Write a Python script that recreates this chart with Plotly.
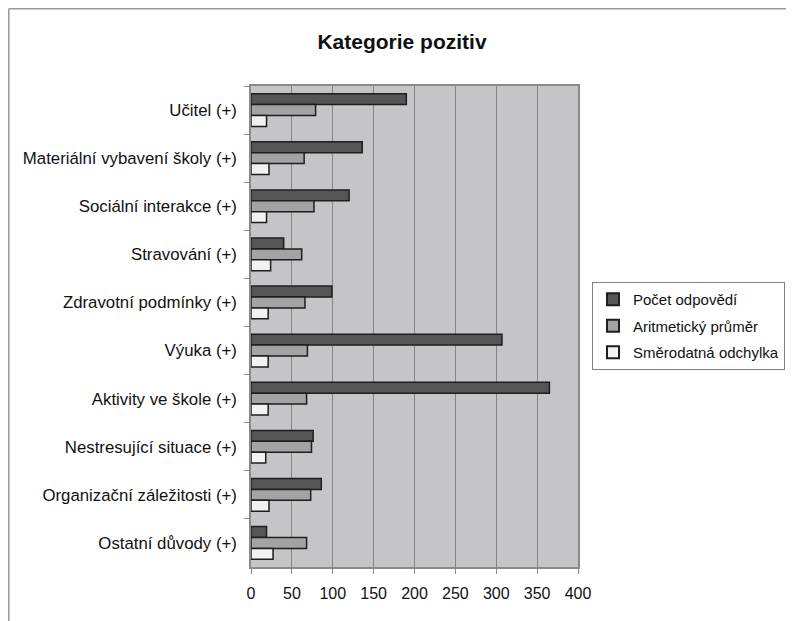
import plotly.graph_objects as go

categories = [
    "Učitel (+)",
    "Materiální vybavení školy (+)",
    "Sociální interakce (+)",
    "Stravování (+)",
    "Zdravotní podmínky (+)",
    "Výuka (+)",
    "Aktivity ve škole (+)",
    "Nestresující situace (+)",
    "Organizační záležitosti (+)",
    "Ostatní důvody (+)",
]
pocet = [190, 136, 120, 40, 99, 307, 365, 76, 86, 19]
prumer = [79, 65, 77, 62, 66, 69, 68, 74, 73, 68]
odchylka = [19, 22, 19, 24, 21, 21, 21, 18, 22, 27]
series_names = ["Počet odpovědí", "Aritmetický průměr", "Směrodatná odchylka"]
x_ticks = [0, 50, 100, 150, 200, 250, 300, 350, 400]

FONT = "Liberation Sans, Arial, sans-serif"
fills = ["#555555", "#a3a3a3", "#f2f2f2"]

fig = go.Figure()
for name, vals, col in zip(series_names, [pocet, prumer, odchylka], fills):
    fig.add_trace(go.Bar(
        y=categories, x=vals, orientation="h", name=name,
        marker=dict(color=col, line=dict(color="#1e1e1e", width=1.5)),
        legendgroup=name,
    ))

# the page body adds an 8px offset; layout below is in figure pixels
W, H = 794, 621
L, R, T, B = 243, 224, 78, 62
pw, ph = W - L - R, H - T - B

def px_to_paper_x(px):
    return (px - L) / pw

def px_to_paper_y(py):
    return (H - B - py) / ph

fig.update_layout(
    width=W, height=H,
    margin=dict(l=L, r=R, t=T, b=B, pad=0, autoexpand=False),
    paper_bgcolor="white",
    plot_bgcolor="#c5c5c7",
    barmode="group",
    bargap=0.32,
    bargroupgap=0,
    font=dict(family=FONT, color="#111"),
    title=dict(text="<b>Kategorie pozitiv</b>", x=394 / W, xanchor="center",
               y=(H - 34) / H, yanchor="middle", yref="container",
               font=dict(size=21, family=FONT, color="#111")),
    showlegend=True,
    legend=dict(
        x=px_to_paper_x(584), y=px_to_paper_y(274), xanchor="left", yanchor="top",
        bordercolor="#808080", borderwidth=1, bgcolor="white",
        font=dict(size=15, family=FONT, color="#111"),
        tracegroupgap=4, traceorder="grouped", itemsizing="constant",
    ),
    xaxis=dict(
        range=[0, 400], tickvals=x_ticks, ticktext=[str(v) for v in x_ticks],
        showgrid=True, gridcolor="#858585", gridwidth=1,
        showline=True, linecolor="#8a8a8a", linewidth=1.5, mirror=True,
        ticks="outside", ticklen=5, tickcolor="#8a8a8a",
        tickfont=dict(size=16, family=FONT, color="#111"),
        ticklabelstandoff=6, zeroline=False, fixedrange=True,
    ),
    yaxis=dict(
        autorange="reversed", type="category",
        showline=True, linecolor="#8a8a8a", linewidth=1.5, mirror=True,
        ticks="outside", ticklen=5, tickcolor="#8a8a8a", tickson="boundaries",
        tickfont=dict(size=16.8, family=FONT, color="#111"),
        ticklabelstandoff=9, showgrid=False, fixedrange=True,
    ),
    shapes=[
        dict(type="line", xref="paper", yref="paper",
             x0=px_to_paper_x(0.75), x1=px_to_paper_x(W + 5),
             y0=px_to_paper_y(0.75), y1=px_to_paper_y(0.75),
             line=dict(color="#9a9a9a", width=1.5)),
        dict(type="line", xref="paper", yref="paper",
             x0=px_to_paper_x(0.75), x1=px_to_paper_x(0.75),
             y0=px_to_paper_y(0.75), y1=px_to_paper_y(H + 5),
             line=dict(color="#9a9a9a", width=1.5)),
    ],
)

fig.write_html("out.html")
